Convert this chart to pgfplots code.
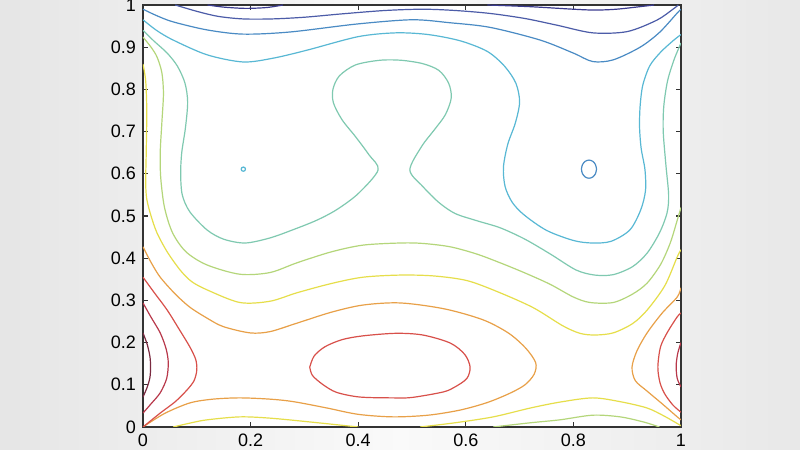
\documentclass[border=0pt]{standalone}
\usepackage{pgfplots}
\pgfplotsset{compat=1.18}
\usepackage{fontspec}
\setmainfont{Liberation Sans}
\definecolor{cN}{HTML}{3B3B8F}
\definecolor{cDB}{HTML}{4C5CA8}
\definecolor{cB}{HTML}{4A8BC4}
\definecolor{cC}{HTML}{58B8D4}
\definecolor{cT}{HTML}{7FC9B0}
\definecolor{cGY}{HTML}{B4D67A}
\definecolor{cY}{HTML}{E6DE4A}
\definecolor{cO}{HTML}{E8A048}
\definecolor{cR}{HTML}{D8504A}
\definecolor{cR2}{HTML}{B8384A}
\definecolor{cDR}{HTML}{7A2A40}
\definecolor{axc}{HTML}{333333}
\begin{document}
\begin{tikzpicture}
\shade[left color=black!10, right color=black!9, middle color=black!2] (-71.5pt,-11.5pt) rectangle (328.5pt,213.5pt);
\begin{axis}[
  at={(0,0)}, anchor=south west,
  scale only axis, width=269pt, height=211pt,
  xmin=0, xmax=1, ymin=0, ymax=1,
  axis background/.style={fill=white},
  axis line style={axc, line width=0.7pt},
  xtick={0,0.2,0.4,0.6,0.8,1},
  xticklabels={0,0.2,0.4,0.6,0.8,1},
  ytick={0,0.1,0.2,0.3,0.4,0.5,0.6,0.7,0.8,0.9,1},
  yticklabels={0,0.1,0.2,0.3,0.4,0.5,0.6,0.7,0.8,0.9,1},
  tick align=inside, major tick length=2.5pt,
  tick style={axc, line width=0.6pt},
  ticklabel style={font=\fontsize{9}{10}\selectfont, text=black},
  /pgf/number format/assume math mode=true,
  cl/.style={line width=0.6pt, smooth, tension=0.5, no markers},
]
% navy
\addplot[cl, draw=cN] coordinates {(0.12,1.0)(0.15,0.995)(0.19,0.992)(0.23,0.994)(0.26,1.0)};
\addplot[cl, draw=cN] coordinates {(0.64,1.0)(0.72,0.996)(0.80,0.990)(0.84,0.988)(0.88,0.990)(0.93,0.997)(0.95,1.0)};
% dark blue
\addplot[cl, draw=cDB] coordinates {(0.06,1.0)(0.10,0.985)(0.14,0.973)(0.186,0.967)(0.24,0.967)(0.30,0.971)(0.37,0.979)(0.45,0.987)(0.52,0.990)(0.58,0.987)(0.645,0.980)(0.71,0.968)(0.77,0.952)(0.836,0.934)(0.9,0.937)(0.955,0.964)(0.985,0.99)(0.995,1.0)};
% blue
\addplot[cl, draw=cB] coordinates {(0,0.99)(0.025,0.975)(0.056,0.96)(0.119,0.941)(0.186,0.931)(0.273,0.936)(0.398,0.955)(0.5,0.965)(0.57,0.958)(0.645,0.947)(0.738,0.917)(0.8,0.886)(0.836,0.866)(0.874,0.870)(0.924,0.900)(0.96,0.935)(0.993,0.981)(1,0.99)};
\addplot[cl, draw=cB] coordinates {(0.843,0.611)(0.8411,0.6218)(0.836,0.6296)(0.829,0.6325)(0.822,0.6296)(0.8169,0.6218)(0.815,0.611)(0.8169,0.6003)(0.822,0.5924)(0.829,0.5895)(0.836,0.5924)(0.8411,0.6003)(0.843,0.611)};
% cyan
\addplot[cl, draw=cC] coordinates {(0,0.965)(0.025,0.94)(0.056,0.917)(0.119,0.882)(0.186,0.865)(0.242,0.874)(0.305,0.893)(0.40,0.925)(0.47,0.934)(0.53,0.930)(0.59,0.915)(0.64,0.89)(0.672,0.855)(0.693,0.815)(0.700,0.77)(0.692,0.72)(0.678,0.67)(0.670,0.616)(0.673,0.57)(0.686,0.533)(0.708,0.503)(0.75,0.466)(0.8,0.442)(0.835,0.436)(0.87,0.44)(0.905,0.467)(0.925,0.514)(0.934,0.56)(0.933,0.61)(0.926,0.66)(0.923,0.71)(0.924,0.76)(0.929,0.81)(0.942,0.856)(0.962,0.888)(0.985,0.915)(1,0.93)};
\addplot[cl, draw=cC] coordinates {(0.1905,0.611)(0.18933,0.61454)(0.1865,0.616)(0.18367,0.61454)(0.1825,0.611)(0.18367,0.60746)(0.1865,0.606)(0.18933,0.60746)(0.1905,0.611)};
% teal
\addplot[cl, draw=cT] coordinates {(0,0.94)(0.02,0.915)(0.045,0.886)(0.064,0.855)(0.078,0.815)(0.083,0.77)(0.079,0.71)(0.072,0.65)(0.070,0.60)(0.073,0.55)(0.087,0.51)(0.119,0.467)(0.15,0.445)(0.19,0.436)(0.236,0.448)(0.28,0.468)(0.323,0.49)(0.36,0.515)(0.40,0.553)(0.437,0.609)(0.42,0.645)(0.395,0.688)(0.37,0.728)(0.354,0.768)(0.353,0.80)(0.365,0.832)(0.395,0.858)(0.44,0.869)(0.48,0.869)(0.52,0.861)(0.55,0.845)(0.568,0.815)(0.573,0.78)(0.562,0.74)(0.542,0.705)(0.518,0.665)(0.496,0.609)(0.52,0.57)(0.55,0.532)(0.58,0.506)(0.62,0.489)(0.664,0.472)(0.71,0.445)(0.757,0.41)(0.805,0.372)(0.84,0.36)(0.874,0.361)(0.91,0.38)(0.937,0.412)(0.96,0.46)(0.974,0.507)(0.977,0.55)(0.972,0.62)(0.967,0.70)(0.968,0.76)(0.975,0.82)(0.987,0.87)(1,0.91)};
% green-yellow
\addplot[cl, draw=cGY] coordinates {(0,0.924)(0.015,0.9)(0.026,0.877)(0.035,0.84)(0.038,0.79)(0.035,0.72)(0.032,0.65)(0.033,0.59)(0.040,0.52)(0.055,0.46)(0.08,0.415)(0.119,0.384)(0.18,0.362)(0.236,0.366)(0.286,0.389)(0.35,0.415)(0.409,0.431)(0.478,0.436)(0.52,0.435)(0.571,0.427)(0.62,0.41)(0.664,0.389)(0.71,0.365)(0.757,0.338)(0.8,0.308)(0.831,0.295)(0.874,0.295)(0.91,0.315)(0.937,0.341)(0.962,0.385)(0.98,0.436)(0.993,0.49)(1,0.52)};
\addplot[cl, draw=cGY] coordinates {(0.651,0)(0.72,0.010)(0.775,0.017)(0.836,0.028)(0.887,0.024)(0.93,0.012)(0.96,0)};
% yellow
\addplot[cl, draw=cY] coordinates {(0,0.86)(0.005,0.82)(0.007,0.75)(0.006,0.65)(0.005,0.58)(0.007,0.54)(0.015,0.5)(0.026,0.46)(0.045,0.415)(0.069,0.372)(0.09,0.345)(0.119,0.325)(0.18,0.295)(0.236,0.298)(0.286,0.318)(0.35,0.34)(0.409,0.355)(0.478,0.36)(0.54,0.358)(0.602,0.347)(0.66,0.32)(0.725,0.283)(0.78,0.24)(0.812,0.222)(0.84,0.218)(0.874,0.223)(0.91,0.245)(0.937,0.277)(0.97,0.335)(0.993,0.403)(1,0.42)};
\addplot[cl, draw=cY] coordinates {(0.056,0)(0.09,0.010)(0.119,0.017)(0.18,0.024)(0.236,0.021)(0.31,0.012)(0.40,0)};
\addplot[cl, draw=cY] coordinates {(0.515,0)(0.58,0.010)(0.651,0.024)(0.72,0.045)(0.775,0.059)(0.836,0.069)(0.887,0.060)(0.937,0.045)(0.97,0.025)(1,0.003)};
% orange
\addplot[cl, draw=cO] coordinates {(0,0.427)(0.015,0.39)(0.032,0.355)(0.06,0.315)(0.087,0.284)(0.119,0.258)(0.149,0.238)(0.199,0.223)(0.236,0.226)(0.286,0.246)(0.35,0.272)(0.409,0.289)(0.478,0.294)(0.56,0.28)(0.632,0.254)(0.68,0.222)(0.712,0.186)(0.73,0.152)(0.727,0.125)(0.71,0.10)(0.682,0.08)(0.64,0.058)(0.589,0.040)(0.53,0.028)(0.465,0.024)(0.40,0.030)(0.342,0.045)(0.28,0.060)(0.236,0.066)(0.18,0.069)(0.13,0.066)(0.087,0.057)(0.04,0.032)(0,0)};
\addplot[cl, draw=cO] coordinates {(1,0.33)(0.993,0.308)(0.965,0.27)(0.937,0.223)(0.918,0.18)(0.909,0.142)(0.915,0.11)(0.937,0.085)(0.965,0.055)(0.993,0.024)(1,0.017)};
% red
\addplot[cl, draw=cR] coordinates {(0,0.355)(0.02,0.32)(0.045,0.277)(0.068,0.23)(0.087,0.19)(0.098,0.16)(0.1,0.135)(0.095,0.11)(0.082,0.088)(0.06,0.06)(0.032,0.033)(0,0)};
\addplot[cl, draw=cR] coordinates {(0.31,0.142)(0.318,0.168)(0.338,0.19)(0.37,0.207)(0.409,0.216)(0.47,0.222)(0.52,0.218)(0.571,0.199)(0.598,0.172)(0.608,0.142)(0.602,0.115)(0.58,0.095)(0.558,0.083)(0.5,0.070)(0.465,0.069)(0.403,0.071)(0.36,0.082)(0.335,0.10)(0.315,0.122)(0.31,0.142)};
\addplot[cl, draw=cR] coordinates {(1,0.27)(0.993,0.261)(0.975,0.225)(0.962,0.19)(0.957,0.142)(0.961,0.105)(0.97,0.078)(0.985,0.052)(1,0.035)};
% darker reds
\addplot[cl, draw=cR2] coordinates {(0,0.294)(0.015,0.26)(0.032,0.223)(0.043,0.185)(0.047,0.152)(0.044,0.115)(0.032,0.081)(0.015,0.055)(0,0.033)};
\addplot[cl, draw=cR2] coordinates {(1,0.2)(0.994,0.175)(0.991,0.145)(0.993,0.115)(1,0.095)};
\addplot[cl, draw=cDR] coordinates {(0,0.223)(0.008,0.195)(0.013,0.166)(0.014,0.142)(0.013,0.118)(0.008,0.095)(0,0.071)};
\end{axis}
\pgfresetboundingbox
\useasboundingbox (-71.5pt,-11.5pt) rectangle (328.5pt,213.5pt);
\end{tikzpicture}
\end{document}
